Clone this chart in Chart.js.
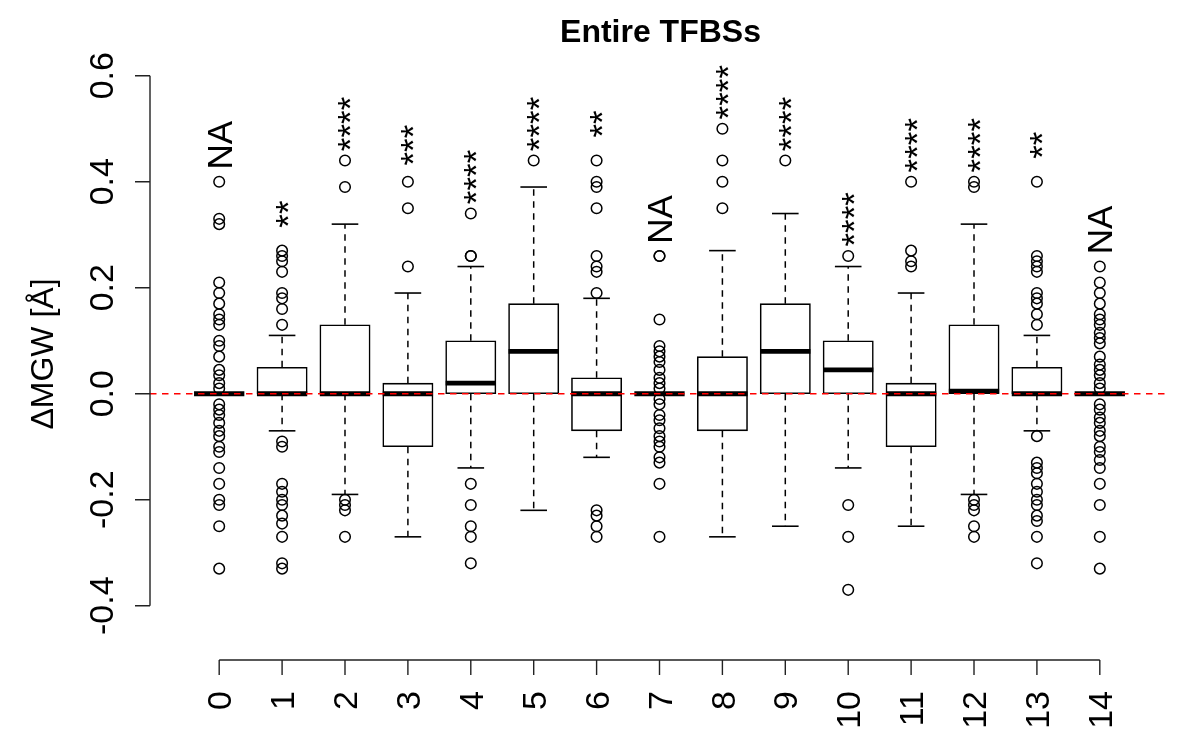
<!DOCTYPE html>
<html>
<head>
<meta charset="utf-8">
<title>Entire TFBSs</title>
<script src="https://cdn.jsdelivr.net/npm/chart.js@4.4.0/dist/chart.umd.min.js"></script>
<style>
    html, body { margin: 0; padding: 0; background: #fff; }
    #wrap { width: 1200px; height: 750px; position: relative; }
</style>
</head>
<body>
<div id="wrap"><canvas id="boxChart"></canvas></div>
<script>
// Box plot statistics, one entry per group (0..14)
const groupLabels = ['0', '1', '2', '3', '4', '5', '6', '7', '8', '9', '10', '11', '12', '13', '14'];
const sigLabels = ['NA', '**', '****', '***', '****', '****', '**', 'NA', '****', '****', '****', '****', '****', '**', 'NA'];

const q1 = [0, 0, 0, -0.10, 0, 0, -0.07, 0, -0.07, 0, 0, -0.10, 0, 0, 0];
const median = [0, 0, 0, 0, 0.02, 0.08, 0, 0, 0, 0.08, 0.045, 0, 0.005, 0, 0];
const q3 = [0, 0.05, 0.13, 0.02, 0.10, 0.17, 0.03, 0, 0.07, 0.17, 0.10, 0.02, 0.13, 0.05, 0];
const whiskerLow = [0, -0.07, -0.19, -0.27, -0.14, -0.22, -0.12, 0, -0.27, -0.25, -0.14, -0.25, -0.19, -0.07, 0];
const whiskerHigh = [0, 0.11, 0.32, 0.19, 0.24, 0.39, 0.18, 0, 0.27, 0.34, 0.24, 0.19, 0.32, 0.11, 0];

const outliers = [
    [0.40, 0.33, 0.32, 0.21, 0.19, 0.17, 0.15, 0.14, 0.13, 0.10, 0.09, 0.07, 0.045, 0.035, 0.02, 0.01,
     -0.02, -0.03, -0.04, -0.055, -0.07, -0.08, -0.10, -0.11, -0.14, -0.17, -0.20, -0.21, -0.25, -0.33],
    [0.27, 0.26, 0.25, 0.23, 0.19, 0.18, 0.16, 0.13,
     -0.09, -0.10, -0.17, -0.185, -0.20, -0.21, -0.23, -0.245, -0.27, -0.32, -0.33],
    [0.44, 0.39, -0.20, -0.21, -0.22, -0.27],
    [0.40, 0.35, 0.24],
    [0.34, 0.26, 0.26, -0.17, -0.21, -0.25, -0.27, -0.32],
    [0.44],
    [0.44, 0.40, 0.39, 0.35, 0.26, 0.24, 0.23, 0.19, -0.22, -0.23, -0.25, -0.27],
    [0.26, 0.26, 0.14, 0.09, 0.08, 0.07, 0.06, 0.045, 0.03, 0.02, 0.01,
     -0.01, -0.02, -0.04, -0.05, -0.065, -0.08, -0.09, -0.10, -0.12, -0.13, -0.17, -0.27],
    [0.50, 0.44, 0.40, 0.35],
    [0.44],
    [0.26, -0.21, -0.27, -0.37],
    [0.40, 0.27, 0.25, 0.24],
    [0.40, 0.39, -0.20, -0.21, -0.22, -0.25, -0.27],
    [0.40, 0.26, 0.25, 0.24, 0.23, 0.19, 0.18, 0.17, 0.15, 0.13,
     -0.08, -0.13, -0.14, -0.15, -0.17, -0.185, -0.20, -0.21, -0.23, -0.24, -0.27, -0.32],
    [0.24, 0.21, 0.19, 0.17, 0.15, 0.14, 0.13, 0.115, 0.105, 0.095, 0.07, 0.055, 0.045, 0.035, 0.02, 0.01,
     -0.02, -0.03, -0.045, -0.055, -0.07, -0.08, -0.10, -0.11, -0.125, -0.14, -0.17, -0.21, -0.27, -0.33]
];

const yTicks = [-0.4, -0.2, 0.0, 0.2, 0.4, 0.6];
const yTickLabels = ['-0.4', '-0.2', '0.0', '0.2', '0.4', '0.6'];

const FONT = '"Liberation Sans", Helvetica, Arial, sans-serif';

// Build datasets from the arrays above
const boxData = groupLabels.map((_, i) => ({ x: i, y: [q1[i], q3[i]] }));
const medianData = groupLabels.map((_, i) => ({ x: i, y: median[i] }));
const capData = [];
const whiskerData = [];
groupLabels.forEach((_, i) => {
    capData.push({ x: i, y: whiskerLow[i] }, { x: i, y: whiskerHigh[i] });
    whiskerData.push({ x: i, y: q3[i] }, { x: i, y: whiskerHigh[i] }, { x: i, y: null });
    whiskerData.push({ x: i, y: q1[i] }, { x: i, y: whiskerLow[i] }, { x: i, y: null });
});
const outlierData = [];
outliers.forEach((list, i) => {
    list.forEach(v => outlierData.push({ x: i, y: v }));
});
const xMin = -1.1;
const xMax = groupLabels.length - 1 + 1.1;

// R-style axes, title and annotations
const rStylePlugin = {
    id: 'rStyle',
    afterDraw(chart) {
        const { ctx, chartArea } = chart;
        const xs = chart.scales.x;
        const ys = chart.scales.y;
        ctx.save();
        ctx.strokeStyle = '#222';
        ctx.fillStyle = '#000';
        ctx.lineWidth = 1.4;

        // y axis
        const ax = chartArea.left;
        ctx.beginPath();
        ctx.moveTo(ax, ys.getPixelForValue(yTicks[0]));
        ctx.lineTo(ax, ys.getPixelForValue(yTicks[yTicks.length - 1]));
        yTicks.forEach(t => {
            const py = ys.getPixelForValue(t);
            ctx.moveTo(ax - 15, py);
            ctx.lineTo(ax, py);
        });
        ctx.stroke();
        ctx.font = '34px ' + FONT;
        ctx.textAlign = 'center';
        ctx.textBaseline = 'alphabetic';
        yTicks.forEach((t, k) => {
            ctx.save();
            ctx.translate(ax - 37, ys.getPixelForValue(t));
            ctx.rotate(-Math.PI / 2);
            ctx.fillText(yTickLabels[k], 0, 0);
            ctx.restore();
        });

        // x axis
        const ay = chartArea.bottom;
        ctx.beginPath();
        ctx.moveTo(xs.getPixelForValue(0), ay);
        ctx.lineTo(xs.getPixelForValue(groupLabels.length - 1), ay);
        groupLabels.forEach((_, i) => {
            const px = xs.getPixelForValue(i);
            ctx.moveTo(px, ay);
            ctx.lineTo(px, ay + 15);
        });
        ctx.stroke();
        ctx.textAlign = 'right';
        groupLabels.forEach((lab, i) => {
            ctx.save();
            ctx.translate(xs.getPixelForValue(i), ay + 31);
            ctx.rotate(-Math.PI / 2);
            ctx.fillText(lab, 0, 0.358 * 34);
            ctx.restore();
        });

        // y axis title
        ctx.font = '32px ' + FONT;
        ctx.textAlign = 'center';
        ctx.save();
        ctx.translate(53, (chartArea.top + chartArea.bottom) / 2 - 3);
        ctx.rotate(-Math.PI / 2);
        ctx.fillText('\u0394MGW [\u00C5]', 0, 0);
        ctx.restore();

        // main title
        ctx.font = 'bold 32px ' + FONT;
        ctx.fillText('Entire TFBSs', (chartArea.left + chartArea.right) / 2 + 1, 42);

        // significance labels above each group's highest value
        const sigSize = 35;
        ctx.font = sigSize + 'px ' + FONT;
        sigLabels.forEach((lab, i) => {
            const top = Math.max(whiskerHigh[i], ...outliers[i]);
            const py = ys.getPixelForValue(top + 0.069);
            const shift = lab === 'NA' ? 0.358 : 0.5;
            ctx.save();
            ctx.translate(xs.getPixelForValue(i), py);
            ctx.rotate(-Math.PI / 2);
            ctx.fillText(lab, 0, shift * sigSize);
            ctx.restore();
        });
        ctx.restore();
    }
};

const ctx = document.getElementById('boxChart');
new Chart(ctx, {
    type: 'scatter',
    data: {
        datasets: [
            {
                type: 'line',
                label: 'zero',
                data: [{ x: xMin, y: 0 }, { x: xMax, y: 0 }],
                borderColor: '#ff0000',
                borderWidth: 1.5,
                borderDash: [6.5, 5.5],
                pointRadius: 0,
                order: 0
            },
            {
                type: 'scatter',
                label: 'outliers',
                data: outlierData,
                pointStyle: 'circle',
                pointRadius: 5.3,
                pointBorderWidth: 1.5,
                pointBorderColor: '#000',
                pointBackgroundColor: 'rgba(0,0,0,0)',
                order: 1
            },
            {
                type: 'scatter',
                label: 'median',
                data: medianData,
                pointStyle: 'line',
                pointRadius: 25.15,
                pointBorderWidth: 4.8,
                pointBorderColor: '#000',
                order: 2
            },
            {
                type: 'scatter',
                label: 'caps',
                data: capData,
                pointStyle: 'line',
                pointRadius: 13.3,
                pointBorderWidth: 1.6,
                pointBorderColor: '#000',
                order: 3
            },
            {
                type: 'line',
                label: 'whiskers',
                data: whiskerData,
                borderColor: '#000',
                borderWidth: 1.5,
                borderDash: [6.5, 5.5],
                pointRadius: 0,
                spanGaps: false,
                order: 4
            },
            {
                type: 'bar',
                label: 'boxes',
                data: boxData,
                backgroundColor: '#ffffff',
                borderColor: '#000',
                borderWidth: 1.6,
                borderSkipped: false,
                barThickness: 50.3,
                order: 5
            }
        ]
    },
    options: {
        responsive: true,
        maintainAspectRatio: false,
        animation: false,
        events: [],
        layout: {
            padding: { left: 150, right: 31, top: 54, bottom: 90 }
        },
        plugins: {
            legend: { display: false },
            tooltip: { enabled: false },
            title: { display: false }
        },
        scales: {
            x: { type: 'linear', min: xMin, max: xMax, offset: false, display: false },
            y: { type: 'linear', min: -0.5024, max: 0.641, display: false }
        }
    },
    plugins: [rStylePlugin]
});
</script>
</body>
</html>
